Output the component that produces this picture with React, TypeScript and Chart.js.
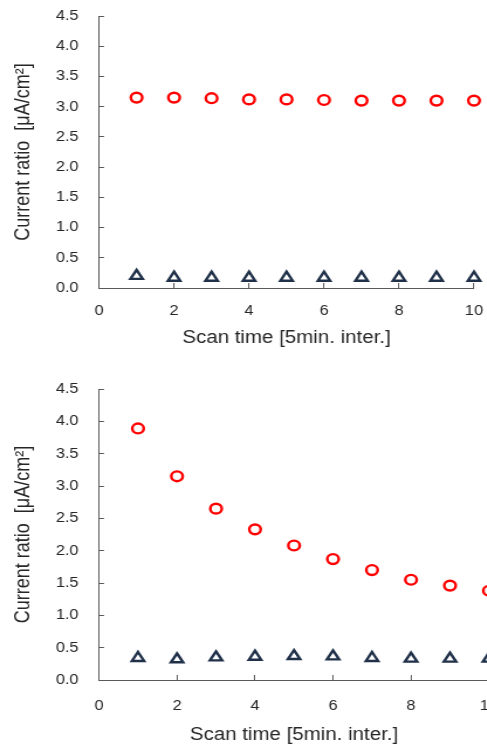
import React, { useEffect, useRef } from 'react';
import { Chart, registerables } from 'chart.js';

Chart.register(...registerables);

const scanTimes = [1, 2, 3, 4, 5, 6, 7, 8, 9, 10];
const topCircle = [3.15, 3.15, 3.14, 3.12, 3.12, 3.11, 3.10, 3.10, 3.10, 3.10];
const topTriangle = [0.20, 0.17, 0.17, 0.17, 0.17, 0.17, 0.17, 0.17, 0.17, 0.17];
const bottomCircle = [3.89, 3.15, 2.65, 2.33, 2.08, 1.87, 1.70, 1.55, 1.46, 1.38];
const bottomTriangle = [0.34, 0.32, 0.35, 0.36, 0.37, 0.365, 0.34, 0.33, 0.33, 0.33];
const yTitle = 'Current ratio  [μA/cm²]';
const xTitle = 'Scan time [5min. inter.]';

// horizontal stretch of the picture (the reference is wider than tall in its glyphs/markers)
const S = 1.17;
const FONT = "'Liberation Sans', Arial, sans-serif";
const AXIS_COLOR = '#595959';
const TEXT_COLOR = '#262626';

type Cfg = {
  circle: number[];
  triangle: number[];
  cssWidth: number;
  height: number;
  padTop: number;
  padRightCss: number;
  yAxisWCss: number;
  xAxisH: number;
  xTickPad: number;
  xTitlePadBottom: number;
};

function ScatterPanel(cfg: Cfg) {
  const ref = useRef<HTMLCanvasElement | null>(null);
  const w = Math.round(cfg.cssWidth / S);
  useEffect(() => {
    if (!ref.current) return;
    const toPts = (arr: number[]) => scanTimes.map((x, i) => ({ x, y: arr[i] }));
    const zeroPad = (s: any) => {
      s.paddingTop = 0;
      s.paddingBottom = 0;
      s.paddingLeft = 0;
      s.paddingRight = 0;
    };
    const chart = new Chart(ref.current, {
      type: 'scatter',
      data: {
        datasets: [
          {
            data: toPts(cfg.circle),
            pointStyle: 'circle',
            pointRadius: 4.9,
            pointBorderWidth: 2.4,
            borderColor: '#ff0000',
            backgroundColor: 'rgba(0,0,0,0)',
            showLine: false,
            clip: false,
          },
          {
            data: toPts(cfg.triangle),
            pointStyle: 'triangle',
            pointRadius: 6,
            pointBorderWidth: 2.4,
            borderColor: '#1f3048',
            backgroundColor: 'rgba(0,0,0,0)',
            showLine: false,
            clip: false,
          },
        ],
      },
      options: {
        responsive: false,
        animation: false,
        events: [],
        layout: { padding: { top: cfg.padTop, right: cfg.padRightCss / S, left: 0, bottom: 0 } },
        plugins: { legend: { display: false }, tooltip: { enabled: false } },
        scales: {
          x: {
            type: 'linear',
            min: 0,
            max: 10,
            afterFit: (s: any) => { s.height = cfg.xAxisH; zeroPad(s); },
            ticks: {
              stepSize: 2,
              padding: cfg.xTickPad,
              color: TEXT_COLOR,
              font: { family: FONT, size: 14 },
              maxRotation: 0,
            },
            grid: { drawOnChartArea: false, drawTicks: true, tickLength: -5, color: AXIS_COLOR },
            border: { display: true, color: AXIS_COLOR, width: 1 },
            title: {
              display: true,
              text: xTitle,
              color: TEXT_COLOR,
              font: { family: FONT, size: 17.5 },
              padding: { top: 0, bottom: cfg.xTitlePadBottom },
            },
          },
          y: {
            type: 'linear',
            min: 0,
            max: 4.5,
            afterFit: (s: any) => { s.width = cfg.yAxisWCss / S; zeroPad(s); },
            ticks: {
              stepSize: 0.5,
              padding: 21.8,
              color: TEXT_COLOR,
              font: { family: FONT, size: 14 },
              callback: (v: any) => Number(v).toFixed(1),
            },
            grid: { drawOnChartArea: false, drawTicks: true, tickLength: -5 / S, color: AXIS_COLOR },
            border: { display: true, color: AXIS_COLOR, width: 1 },
            title: {
              display: true,
              text: yTitle,
              color: TEXT_COLOR,
              font: { family: FONT, size: 18 },
              padding: { top: 9.6, bottom: 0 },
            },
          },
        },
      },
    } as any);
    return () => chart.destroy();
  }, []);
  return (
    <canvas
      ref={ref}
      width={w}
      height={cfg.height}
      style={{ display: 'block', width: `${cfg.cssWidth}px`, height: `${cfg.height}px` }}
    />
  );
}

export default function App() {
  return (
    <div
      style={{
        position: 'absolute',
        left: 0,
        top: 0,
        width: 487,
        height: 744,
        overflow: 'hidden',
        background: '#ffffff',
      }}
    >
      <div style={{ position: 'absolute', left: 0, top: 0 }}>
        <ScatterPanel
          circle={topCircle}
          triangle={topTriangle}
          cssWidth={487}
          height={360}
          padTop={16}
          padRightCss={13}
          yAxisWCss={99}
          xAxisH={72}
          xTickPad={19.6}
          xTitlePadBottom={11.5}
        />
      </div>
      <div style={{ position: 'absolute', left: 0, top: 370 }}>
        <ScatterPanel
          circle={bottomCircle}
          triangle={bottomTriangle}
          cssWidth={502}
          height={380}
          padTop={19}
          padRightCss={13}
          yAxisWCss={99}
          xAxisH={70}
          xTickPad={22.3}
          xTitlePadBottom={4.5}
        />
      </div>
    </div>
  );
}
